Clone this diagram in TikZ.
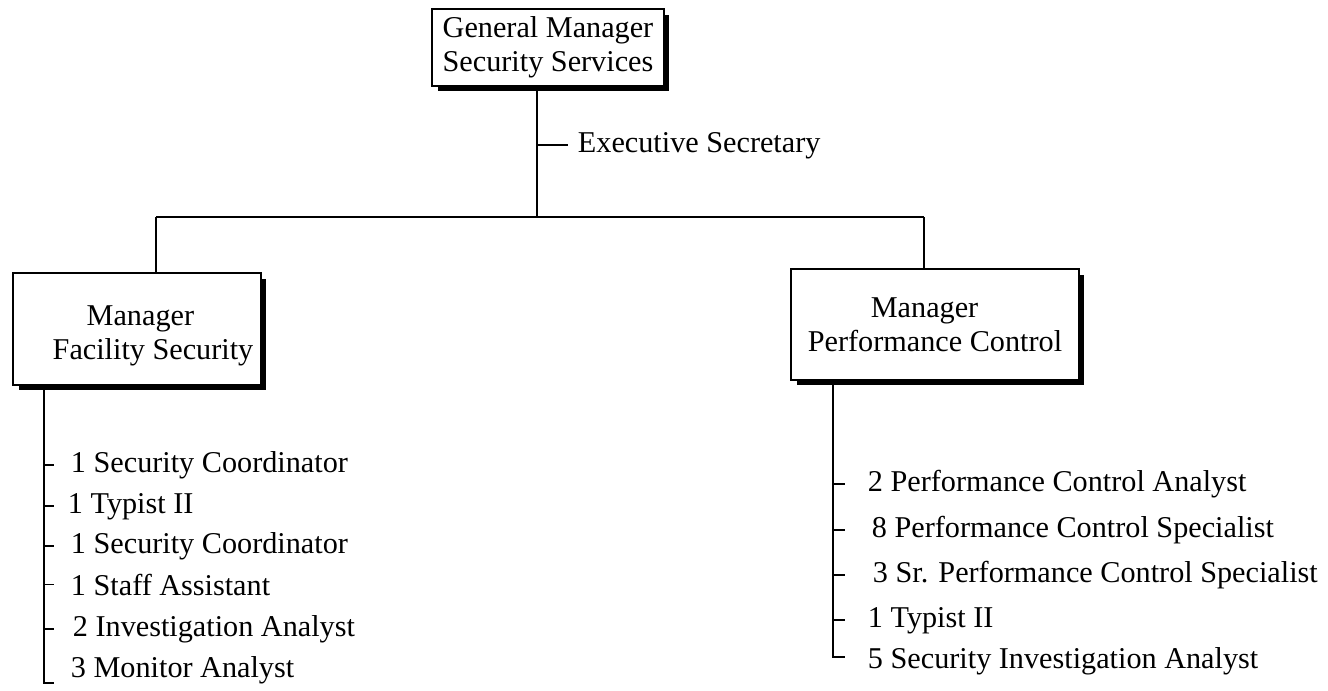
\documentclass[tikz,border=0pt]{standalone}
\usepackage{fontspec}
\setmainfont{Liberation Serif}
\usetikzlibrary{shadows}
\tikzset{
  mgrbox/.style={draw, line width=0.8pt, fill=white, inner sep=0pt,
    drop shadow={shadow xshift=0.11cm, shadow yshift=-0.11cm, fill=black, opacity=1}},
  staff/.style={anchor=base west, inner sep=0pt},
}
\begin{document}
\begin{tikzpicture}[x=0.02cm, y=-0.02cm, line width=1.1pt, font=\fontsize{17.2}{19.5}\selectfont]
	\useasboundingbox (0,0) rectangle (1328,690);
	% manager boxes
	\node[mgrbox, minimum width=4.64cm, minimum height=1.54cm, align=center] (gm) at (548,47.5) {General Manager\\Security Services};
	\node[mgrbox, minimum width=4.96cm, minimum height=2.24cm, align=left] (fac) at (137,329) {\rule{0pt}{0.66cm}\hspace*{1.32cm}Manager\\\hspace*{0.64cm}Facility Security};
	\node[mgrbox, minimum width=5.76cm, minimum height=2.22cm, align=left] (perf) at (935,324.5) {\hspace*{1.26cm}Manager\\Performance Control};
	% main lines
	\coordinate (bus) at (537,217);
	\coordinate (busL) at (156,217);
	\coordinate (busR) at (924,217);
	\draw (gm.south -| bus) -- (bus);
	\draw (busL) -- (busR);
	\draw (busL) -- (busL |- fac.north);
	\draw (busR) -- (busR |- perf.north);
	\node[staff] (sec) at (577,152) {Executive Secretary};
	\draw (sec.west -| bus) -- ++(31,0);
	% facility security staff
	\coordinate (facleg) at (44,683);
	\node[staff] (f1) at (70,472) {1 Security Coordinator};
	\node[staff] (f2) at (67,513) {1 Typist II};
	\node[staff] (f3) at (70,553) {1 Security Coordinator};
	\node[staff] (f4) at (70,595) {1 Staff Assistant};
	\node[staff] (f5) at (72,636) {2 Investigation Analyst};
	\node[staff] (f6) at (70,677) {3 Monitor Analyst};
	\draw (fac.south -| facleg) -- (facleg) -- ++(10,0);
	\draw (f1.west -| facleg) -- ++(10,0);
	\draw (f2.west -| facleg) -- ++(10,0);
	\draw (f3.west -| facleg) -- ++(10,0);
	\draw (f4.west -| facleg) -- ++(10,0);
	\draw (f5.west -| facleg) -- ++(10,0);
	% performance control staff
	\coordinate (perfleg) at (833,657);
	\node[staff] (p1) at (867,491) {2 Performance Control Analyst};
	\node[staff] (p2) at (871,537) {8 Performance Control Specialist};
	\node[staff] (p3) at (872,582) {3 Sr. Performance Control Specialist};
	\node[staff] (p4) at (867,627) {1 Typist II};
	\node[staff] (p5) at (867,668) {5 Security Investigation Analyst};
	\draw (perf.south -| perfleg) -- (perfleg) -- ++(12,0);
	\draw (p1.west -| perfleg) -- ++(12,0);
	\draw (p2.west -| perfleg) -- ++(12,0);
	\draw (p3.west -| perfleg) -- ++(12,0);
	\draw (p4.west -| perfleg) -- ++(12,0);
\end{tikzpicture}
\end{document}
